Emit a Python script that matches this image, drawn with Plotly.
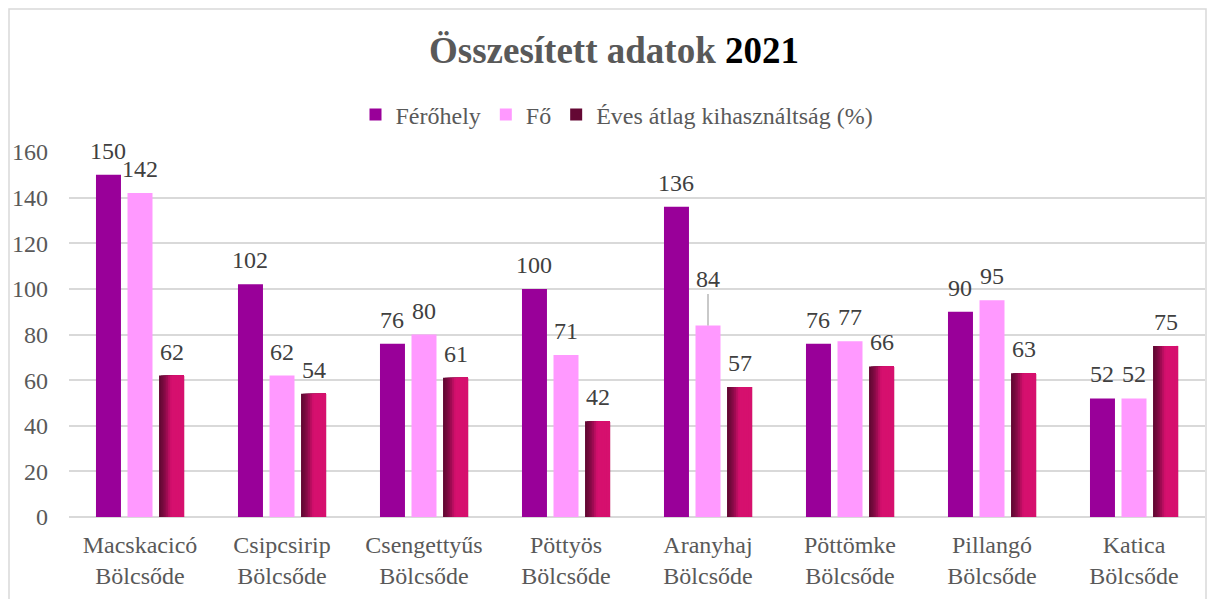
import plotly.graph_objects as go

categories = [
    "Macskacicó<br>Bölcsőde",
    "Csipcsirip<br>Bölcsőde",
    "Csengettyűs<br>Bölcsőde",
    "Pöttyös<br>Bölcsőde",
    "Aranyhaj<br>Bölcsőde",
    "Pöttömke<br>Bölcsőde",
    "Pillangó<br>Bölcsőde",
    "Katica<br>Bölcsőde",
]
ferohely = [150, 102, 76, 100, 136, 76, 90, 52]
fo = [142, 62, 80, 71, 84, 77, 95, 52]
kihasznaltsag = [62, 54, 61, 42, 57, 66, 63, 75]
y_ticks = [0, 20, 40, 60, 80, 100, 120, 140, 160]

FONT = "Liberation Serif, Times New Roman, serif"
GRAY = "#595959"
LABEL = "#404040"
GRID = "#d9d9d9"
FS = 24

BAR_W = 0.176
OFFSETS = [-0.31, -0.088, 0.134]
x = list(range(len(categories)))

fig = go.Figure()
fig.add_trace(go.Bar(
    x=x, y=ferohely, name="Férőhely", width=BAR_W, offset=OFFSETS[0],
    marker=dict(color="#990099", line=dict(width=0)),
))
fig.add_trace(go.Bar(
    x=x, y=fo, name="Fő", width=BAR_W, offset=OFFSETS[1],
    marker=dict(color="#ff99ff", line=dict(width=0)),
))


def mix(c1, c2, t):
    a = [int(c1[i:i + 2], 16) for i in (1, 3, 5)]
    b = [int(c2[i:i + 2], 16) for i in (1, 3, 5)]
    return "#" + "".join(f"{round(p + (q - p) * t):02x}" for p, q in zip(a, b))


# horizontal gradient on the third series: slices drawn left to right
n_slices = 14
for k in range(n_slices):
    t = min(1.0, (k / (n_slices * 0.45)) ** 1.4)
    fig.add_trace(go.Bar(
        x=x, y=kihasznaltsag, name="Éves átlag kihasználtság (%)",
        width=BAR_W * (1 - k / n_slices), offset=OFFSETS[2] + BAR_W * k / n_slices,
        marker=dict(color=mix("#640834", "#d6106e", t), line=dict(width=0)),
        showlegend=(k == 0), legendgroup="kih",
    ))

annotations = []
for series, off in zip([ferohely, fo, kihasznaltsag], OFFSETS):
    for i, v in enumerate(series):
        xc = i + off + BAR_W / 2
        if series is fo and i == 4:
            annotations.append(dict(
                x=xc, y=v, text=str(v), showarrow=True, ax=0, ay=-46,
                arrowhead=0, arrowwidth=1.2, arrowcolor="#a6a6a6",
                font=dict(family=FONT, size=FS, color=LABEL),
            ))
        else:
            annotations.append(dict(
                x=xc, y=v, text=str(v), showarrow=False, yanchor="middle", yshift=24,
                font=dict(family=FONT, size=FS, color=LABEL),
            ))

annotations.append(dict(
    text="Összesített adatok <span style='color:black'>2021</span>",
    xref="paper", yref="paper", x=(614 - 69) / 1136, y=(517 - 51) / 365,
    xanchor="center", yanchor="middle", showarrow=False,
    font=dict(family=FONT, size=37, color=GRAY, weight="bold"),
))

fig.update_layout(
    width=1208, height=599,
    margin=dict(l=69, r=3, t=152, b=82, autoexpand=False),
    paper_bgcolor="white", plot_bgcolor="white",
    barmode="overlay",
    font=dict(family=FONT, size=FS, color=GRAY),
    showlegend=True,
    legend=dict(
        orientation="h", x=(617 - 69) / 1136, xanchor="center",
        y=(517 - 115) / 365, yanchor="middle",
        font=dict(family=FONT, size=FS, color=GRAY),
        itemwidth=30, bgcolor="rgba(0,0,0,0)",
    ),
    annotations=annotations,
    shapes=[dict(
        type="rect", xref="paper", yref="paper",
        x0=(9 - 69) / 1136, x1=(1206 - 69) / 1136,
        y0=(517 - 610) / 365, y1=(517 - 9) / 365,
        line=dict(color=GRID, width=1.5), fillcolor="rgba(0,0,0,0)", layer="below",
    )],
)
fig.update_xaxes(
    range=[-0.5, len(categories) - 0.5], tickvals=x, ticktext=categories,
    showgrid=False, zeroline=False, showline=False, ticks="", tickangle=0,
    tickfont=dict(family=FONT, size=FS, color=GRAY), ticklabelstandoff=11,
    automargin=False,
)
fig.update_yaxes(
    range=[0, 160], tickvals=y_ticks, showgrid=True, gridcolor=GRID, gridwidth=1.5,
    zeroline=True, zerolinecolor=GRID, zerolinewidth=1.5, showline=False, ticks="",
    tickfont=dict(family=FONT, size=FS, color=GRAY), ticklabelstandoff=20,
    automargin=False,
)

# the page's default body margin would shift the chart by 8px
fig.write_html(
    "out.html",
    config={"displayModeBar": False},
    post_script="document.body.style.margin = '0';",
)
